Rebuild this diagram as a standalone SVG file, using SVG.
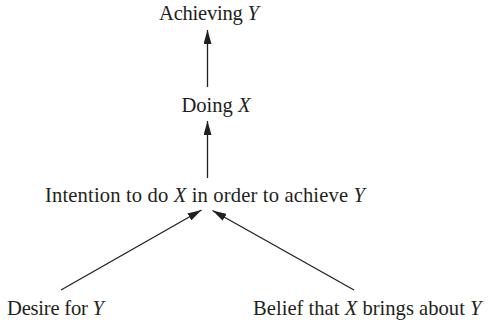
<svg xmlns="http://www.w3.org/2000/svg" width="489" height="325" viewBox="0 0 489 325">
<style>
text{font-family:"Liberation Serif","Times New Roman",serif;font-size:20.6px;fill:#231f20}
.i{font-style:italic}
.c{stroke:#231f20;stroke-width:1.3;fill:none}
</style>
<defs>
<marker id="ah" viewBox="0 0 14 8" refX="14" refY="4" markerWidth="14" markerHeight="8" markerUnits="userSpaceOnUse" orient="auto">
<path d="M0,0 L14,4 L0,8 Z" fill="#231f20"/>
</marker>
</defs>
<rect width="489" height="325" fill="#fff"/>
<g id="achieving"><text x="159" y="19.5" textLength="100" lengthAdjust="spacing">Achieving <tspan class="i">Y</tspan></text></g>
<g id="doing"><text x="181.5" y="111.5" textLength="69" lengthAdjust="spacing">Doing <tspan class="i">X</tspan></text></g>
<g id="intention"><text x="45" y="201.5" textLength="320" lengthAdjust="spacing">Intention to do <tspan class="i">X</tspan> in order to achieve <tspan class="i">Y</tspan></text></g>
<g id="desire"><text x="7" y="315" textLength="97" lengthAdjust="spacing">Desire for <tspan class="i">Y</tspan></text></g>
<g id="belief"><text x="253" y="315" textLength="228.5" lengthAdjust="spacing">Belief that <tspan class="i">X</tspan> brings about <tspan class="i">Y</tspan></text></g>
<g id="connectors">
<line class="c" x1="207.5" y1="87" x2="207.5" y2="30" marker-end="url(#ah)"/>
<line class="c" x1="207.5" y1="178" x2="207.5" y2="121" marker-end="url(#ah)"/>
<line class="c" x1="61" y1="290" x2="201.5" y2="210" marker-end="url(#ah)"/>
<line class="c" x1="354" y1="290" x2="212.5" y2="210.5" marker-end="url(#ah)"/>
</g>
</svg>
